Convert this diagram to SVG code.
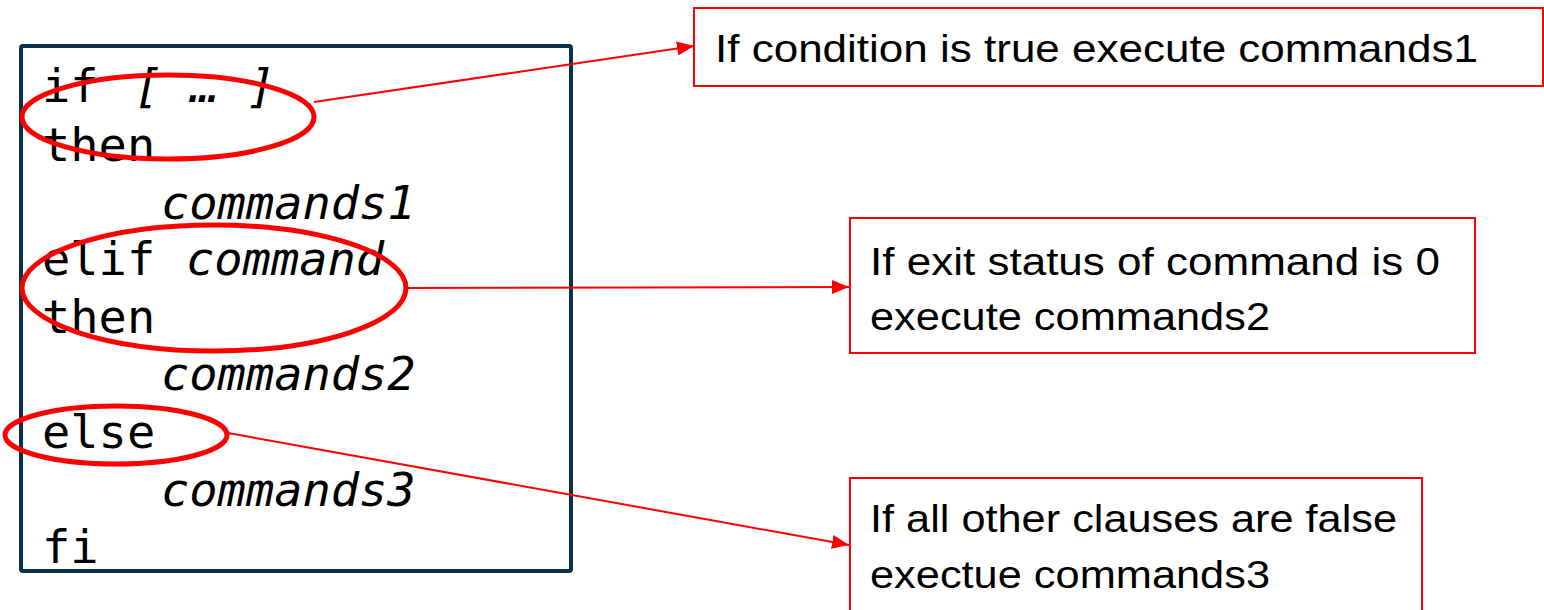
<svg xmlns="http://www.w3.org/2000/svg" width="1544" height="610" viewBox="0 0 1544 610">
<style>
.code{font-family:"DejaVu Sans Mono","Liberation Mono",monospace;font-size:47px;fill:#000}
.it{font-style:italic}
.lbl{font-family:"Liberation Sans","Noto Sans",sans-serif;font-size:38px;fill:#000}
.rbox{fill:#fff;stroke:#ff0000;stroke-width:2}
.ell{fill:none;stroke:#ff0000;stroke-width:5}
.conn{stroke:#ff0000;stroke-width:2;fill:none;marker-end:url(#arr)}
</style>
<defs>
<marker id="arr" markerUnits="userSpaceOnUse" markerWidth="18" markerHeight="14" refX="17" refY="7" orient="auto">
<path d="M0,0 L17,7 L0,14 Z" fill="#ff0000"/>
</marker>
</defs>
<rect width="1544" height="610" fill="#fff"/>
<g id="code">
<rect x="21" y="46" width="550" height="525" rx="2" fill="none" stroke="#0d3049" stroke-width="4"/>
<text class="code" x="42" y="102">if <tspan class="it" x="134">[ … ]</tspan></text>
<text class="code" x="42" y="161">then</text>
<text class="code it" x="161" y="219">commands1</text>
<text class="code" x="42" y="275">elif <tspan class="it" x="186">command</tspan></text>
<text class="code" x="42" y="333">then</text>
<text class="code it" x="161" y="390">commands2</text>
<text class="code" x="42" y="448">else</text>
<text class="code it" x="161" y="506">commands3</text>
<text class="code" x="42" y="563">fi</text>
</g>
<g id="highlights">
<ellipse class="ell" cx="168" cy="117" rx="146" ry="42"/>
<ellipse class="ell" cx="214" cy="288" rx="192" ry="63"/>
<ellipse class="ell" cx="116" cy="435" rx="111" ry="29"/>
</g>
<g id="connectors">
<line class="conn" x1="314" y1="102" x2="694" y2="46"/>
<line class="conn" x1="407" y1="288" x2="849" y2="287"/>
<line class="conn" x1="228" y1="433" x2="849" y2="545"/>
</g>
<g id="note1">
<rect class="rbox" x="694" y="8" width="849" height="78"/>
<text class="lbl" x="715" y="62" textLength="763" lengthAdjust="spacingAndGlyphs">If condition is true execute commands1</text>
</g>
<g id="note2">
<rect class="rbox" x="850" y="218" width="625" height="135"/>
<text class="lbl" x="870" y="275" textLength="570" lengthAdjust="spacingAndGlyphs">If exit status of command is 0</text>
<text class="lbl" x="870" y="330" textLength="400" lengthAdjust="spacingAndGlyphs">execute commands2</text>
</g>
<g id="note3">
<rect class="rbox" x="850" y="478" width="572" height="140"/>
<text class="lbl" x="870" y="532" textLength="527" lengthAdjust="spacingAndGlyphs">If all other clauses are false</text>
<text class="lbl" x="870" y="588" textLength="400" lengthAdjust="spacingAndGlyphs">exectue commands3</text>
</g>
</svg>
